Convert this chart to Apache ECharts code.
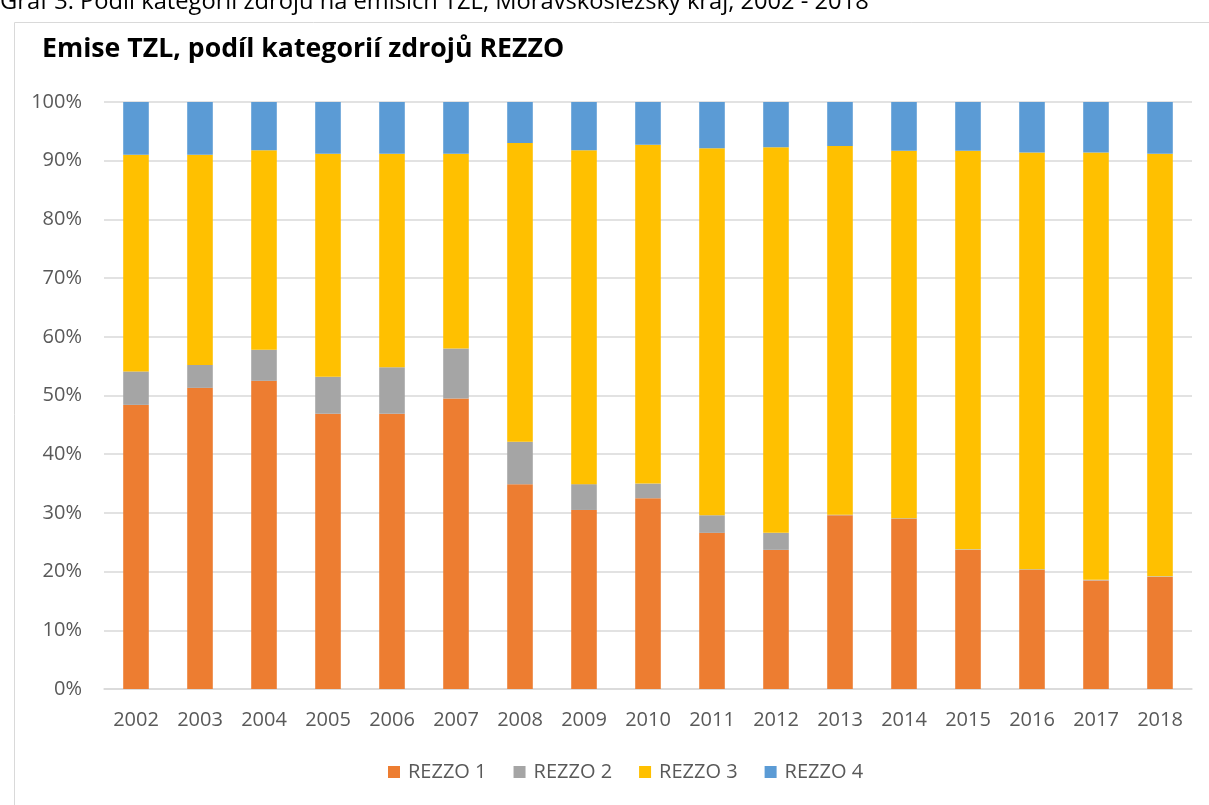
<!DOCTYPE html>
<html>
<head>
<meta charset="utf-8">
<script src="https://cdn.jsdelivr.net/npm/echarts@6/dist/echarts.min.js"></script>
<style>
html,body{margin:0;padding:0;background:#fff;}
#main{width:1209px;height:805px;}
</style>
</head>
<body>
<div id="main"></div>
<script>
var years = ['2002','2003','2004','2005','2006','2007','2008','2009','2010','2011','2012','2013','2014','2015','2016','2017','2018'];
var rezzo1 = [48.4, 51.3, 52.5, 46.9, 46.9, 49.5, 34.9, 30.5, 32.5, 26.6, 23.7, 29.6, 29.0, 23.7, 20.3, 18.5, 19.1];
var rezzo2 = [5.7, 3.9, 5.3, 6.3, 7.9, 8.5, 7.2, 4.4, 2.5, 3.0, 2.9, 0.1, 0.1, 0.1, 0.1, 0.1, 0.1];
var rezzo3 = [36.9, 35.8, 34.0, 38.0, 36.4, 33.2, 50.9, 56.9, 57.7, 62.5, 65.7, 62.8, 62.6, 67.9, 71.0, 72.8, 72.0];
var rezzo4 = [9.0, 9.0, 8.2, 8.8, 8.8, 8.8, 7.0, 8.2, 7.3, 7.9, 7.7, 7.5, 8.3, 8.3, 8.6, 8.6, 8.8];
var names = ['REZZO 1','REZZO 2','REZZO 3','REZZO 4'];
var colors = ['#ED7D31','#A5A5A5','#FFC000','#5B9BD5'];

var font = '"Open Sans", sans-serif';

function bar(name, data, color) {
    return {
        name: name,
        type: 'bar',
        stack: 'total',
        barWidth: '40%',
        itemStyle: {color: color},
        data: data
    };
}

echarts.init(document.getElementById('main')).setOption({
    animation: false,
    color: colors,
    graphic: [
        {type: 'rect', shape: {x: 14.5, y: 22.5, width: 1400, height: 1000},
         style: {fill: 'none', stroke: '#d9d9d9', lineWidth: 1}},
        {type: 'text', left: 0, top: -10,
         style: {text: 'Graf 3: Podíl kategorií zdrojů na emisích TZL, Moravskoslezský kraj, 2002 - 2018',
                 font: '23.7px ' + font, fill: '#000'}}
    ],
    title: {
        text: 'Emise TZL, podíl kategorií zdrojů REZZO',
        left: 37, top: 31,
        textStyle: {fontFamily: font, fontWeight: 'bold', fontSize: 26.7, color: '#000'}
    },
    legend: {
        data: names,
        bottom: 18,
        left: 383,
        icon: 'rect',
        itemWidth: 12,
        itemHeight: 12,
        itemGap: 27,
        textStyle: {fontFamily: font, fontSize: 20, color: '#595959', padding: [0, 0, 0, 3]}
    },
    grid: {left: 104, right: 17, top: 102, bottom: 116},
    xAxis: {
        type: 'category',
        data: years,
        axisTick: {show: false},
        axisLine: {lineStyle: {color: '#d9d9d9', width: 1.5}},
        axisLabel: {fontFamily: font, fontSize: 20, color: '#595959', margin: 21}
    },
    yAxis: {
        type: 'value',
        min: 0, max: 100, interval: 10,
        axisLine: {show: false},
        axisTick: {show: false},
        splitLine: {lineStyle: {color: '#d9d9d9', width: 1.5}},
        axisLabel: {formatter: '{value}%', fontFamily: font, fontSize: 20, color: '#595959', margin: 22}
    },
    series: [
        bar(names[0], rezzo1, colors[0]),
        bar(names[1], rezzo2, colors[1]),
        bar(names[2], rezzo3, colors[2]),
        bar(names[3], rezzo4, colors[3])
    ]
});
</script>
</body>
</html>
